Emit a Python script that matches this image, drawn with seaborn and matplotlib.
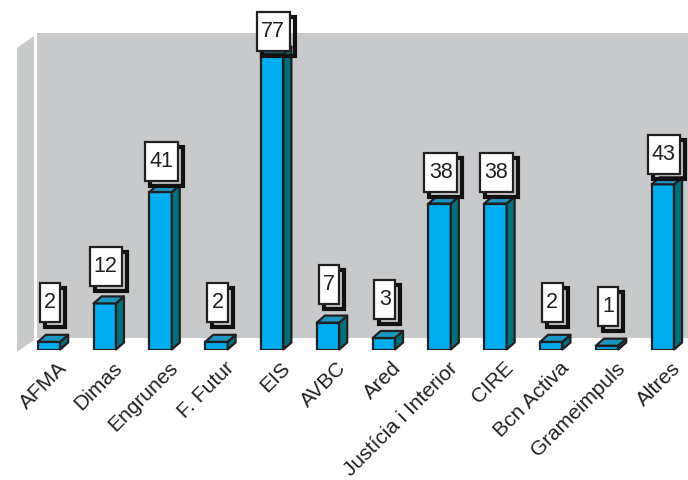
import matplotlib
matplotlib.use('Agg')
import matplotlib.pyplot as plt
import matplotlib.transforms as mtransforms
from matplotlib.patches import Polygon, Rectangle
import seaborn as sns
import pandas as pd

categories = ['AFMA', 'Dimas', 'Engrunes', 'F. Futur', 'EIS', 'AVBC', 'Ared',
              'Justícia i Interior', 'CIRE', 'Bcn Activa', 'Grameimpuls', 'Altres']
values = [2, 12, 41, 2, 77, 7, 3, 38, 38, 2, 1, 43]

sns.set_theme(style='white')
plt.rcParams['font.family'] = ['Liberation Sans', 'DejaVu Sans']

W, H = 688, 480
fig = plt.figure(figsize=(W / 100, H / 100), dpi=100)
fig.patch.set_facecolor('white')

BASE = 349.5   # pixel row (from top) of the bar baseline
TOP = 33       # pixel row of the back wall top
LEFT = 37
ax = fig.add_axes([LEFT / W, 1 - BASE / H, (W - LEFT) / W, (BASE - TOP) / H])
ax.set_facecolor('none')

df = pd.DataFrame({'cat': categories, 'val': values})
sns.barplot(data=df, x='cat', y='val', color='#00AEEF', edgecolor='#231F20',
            linewidth=1.6, width=0.4, saturation=1, ax=ax, zorder=3)
ax.set_xlim(-0.215, 11.45)
ax.set_ylim(0, 82.4)
for s in ax.spines.values():
    s.set_visible(False)
ax.set_yticks([])
ax.set_xlabel('')
ax.set_ylabel('')
ax.set_xticks(range(len(categories)))
ax.set_xticklabels(categories, rotation=45, ha='right', rotation_mode='anchor',
                   fontsize=15, color='#231F20')
ax.tick_params(axis='x', length=0, pad=6.5)
shift = mtransforms.ScaledTranslation(8 / 100, 0, fig.dpi_scale_trans)
for lab in ax.get_xticklabels():
    lab.set_transform(lab.get_transform() + shift)

ident = mtransforms.IdentityTransform()
grey = '#C8C9CB'
# back wall
ax.add_patch(Rectangle((LEFT, H - 338), W - LEFT, 338 - TOP, transform=ident,
                       facecolor=grey, edgecolor='none', zorder=0, clip_on=False))
# left side wall
ax.add_patch(Polygon([(17, H - 48), (34, H - 36), (34, H - 340), (17, H - 352)],
                     closed=True, transform=ident, facecolor=grey,
                     edgecolor='none', zorder=0, clip_on=False))

DX, DY = 8, 7
edge = '#231F20'
bars = [p for p in ax.patches if isinstance(p, Rectangle) and p.get_transform() != ident][:len(values)]
bars = sorted(bars, key=lambda p: p.get_x())
for p, v in zip(bars, values):
    x0, y0 = p.get_x(), p.get_y()
    w, h = p.get_width(), p.get_height()
    (px0, py0) = ax.transData.transform((x0, y0))
    (px1, py1) = ax.transData.transform((x0 + w, y0 + h))
    top = Polygon([(px0, py1), (px1, py1), (px1 + DX, py1 + DY), (px0 + DX, py1 + DY)],
                  closed=True, transform=ident, facecolor='#1B96C2', edgecolor=edge,
                  linewidth=1.6, zorder=3, clip_on=False, joinstyle='round')
    side = Polygon([(px1, py0), (px1, py1), (px1 + DX, py1 + DY), (px1 + DX, py0 + DY)],
                   closed=True, transform=ident, facecolor='#00707B', edgecolor=edge,
                   linewidth=1.6, zorder=3, clip_on=False, joinstyle='round')
    ax.add_patch(side)
    ax.add_patch(top)

    # value label box with offset shadow
    txt = str(v)
    bw = len(txt) * 11.8 + 9
    bh = 39
    gap = 20 - 0.22 * v
    cx = (px0 + px1) / 2 + 1
    by = py1 + gap
    ax.add_patch(Rectangle((cx - bw / 2 + 5, by - 5), bw, bh, transform=ident,
                           facecolor='none', edgecolor='#111111', linewidth=3.0,
                           zorder=4, clip_on=False))
    ax.add_patch(Rectangle((cx - bw / 2, by), bw, bh, transform=ident,
                           facecolor='white', edgecolor=edge, linewidth=1.6,
                           zorder=5, clip_on=False))
    ax.text(cx, by + bh / 2, txt, transform=ident, ha='center', va='center',
            fontsize=15.5, color='#231F20', zorder=6, clip_on=False)

fig.savefig('out.png', dpi=100, facecolor='white')
